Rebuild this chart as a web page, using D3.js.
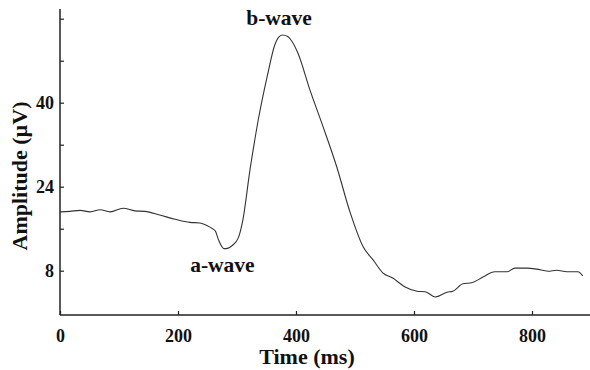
<!DOCTYPE html>
<meta charset="utf-8">
<script src="https://d3js.org/d3.v7.min.js"></script>
<style>
body { margin: 0; background: #fff; }
text { font-family: "Liberation Serif", "Times New Roman", serif; font-weight: bold; fill: #111; }
</style>
<body>
<div id="chart"></div>
<script>
// ERG trace
var timeMs = [0, 17, 34, 51, 68, 85, 107, 127, 144, 169, 195, 220, 237, 254, 263, 269, 278, 285, 292, 302,
  310, 322, 336, 351, 364, 370, 377, 386, 393, 403, 424, 446, 469, 492, 514, 531, 547, 564, 585, 605, 619,
  636, 656, 666, 683, 698, 717, 737, 758, 771, 792, 808, 827, 842, 859, 878, 886];
var amplitude = [19.2, 19.3, 19.5, 19.2, 19.6, 19.2, 19.9, 19.4, 19.3, 18.6, 17.8, 17.2, 17.1, 16.3, 15.6, 13.8, 12.2, 12.3, 12.8, 14.2,
  17.7, 27.2, 36.7, 44.9, 51.0, 52.4, 52.9, 52.6, 51.7, 49.5, 42.3, 35.4, 27.8, 19.0, 12.5, 10.0, 7.6, 6.6, 4.9, 4.1, 4.0,
  3.0, 3.9, 4.1, 5.5, 5.7, 6.8, 7.8, 7.8, 8.5, 8.5, 8.3, 7.9, 8.1, 7.8, 7.8, 7.0];
var xTicks = [0, 200, 400, 600, 800];
var yTicks = [8, 16, 24, 32, 40, 48, 56];
var yLabelled = [8, 24, 40];
var waveLabels = [{name: "b-wave", t: 378, v: 54.8}, {name: "a-wave", t: 282, v: 7.7}];

var W = 590, H = 370;
var svg = d3.select("#chart").append("svg")
  .attr("width", W).attr("height", H);

var x = d3.scaleLinear().domain([0, 800]).range([60, 532]);
var y = d3.scaleLinear().domain([0, 56]).range([312.7, 18.7]);

var data = timeMs.map(function(t, i) { return {t: t, v: amplitude[i]}; });

// axes
svg.append("g")
  .attr("transform", "translate(0,315)")
  .call(d3.axisBottom(x).tickValues(xTicks).tickSizeInner(-4).tickSizeOuter(0).tickPadding(14))
  .call(function(g) {
    g.select(".domain").attr("d", "M60,0H590").attr("stroke", "#222").attr("stroke-width", 1.5);
    g.selectAll(".tick line").attr("stroke", "#222").attr("stroke-width", 1.2);
    g.selectAll(".tick text").attr("font-size", 18).attr("font-family", null);
  });

svg.append("g")
  .attr("transform", "translate(60,0)")
  .call(d3.axisLeft(y).tickValues(yTicks).tickSizeInner(-4).tickSizeOuter(0).tickPadding(6)
    .tickFormat(function(d) { return yLabelled.indexOf(d) >= 0 ? d : ""; }))
  .call(function(g) {
    g.select(".domain").attr("d", "M0,9V315").attr("stroke", "#222").attr("stroke-width", 1.5);
    g.selectAll(".tick line").attr("stroke", "#222").attr("stroke-width", 1.2);
    g.selectAll(".tick text").attr("font-size", 18).attr("font-family", null);
  });

// trace
svg.append("path")
  .datum(data)
  .attr("fill", "none")
  .attr("stroke", "#333")
  .attr("stroke-width", 1.1)
  .attr("d", d3.line()
    .x(function(d) { return x(d.t); })
    .y(function(d) { return y(d.v); })
    .curve(d3.curveMonotoneX));

// wave labels
svg.selectAll(".wave")
  .data(waveLabels).enter()
  .append("text")
  .attr("class", "wave")
  .attr("x", function(d) { return x(d.t) - 4; })
  .attr("y", function(d) { return y(d.v); })
  .attr("text-anchor", "middle")
  .attr("font-size", 21.5)
  .text(function(d) { return d.name; });

// titles
svg.append("text")
  .attr("x", 307).attr("y", 364)
  .attr("text-anchor", "middle")
  .attr("font-size", 22)
  .text("Time (ms)");

svg.append("text")
  .attr("transform", "translate(27,176) rotate(-90)")
  .attr("text-anchor", "middle")
  .attr("font-size", 22)
  .text("Amplitude (µV)");
</script>
</body>
